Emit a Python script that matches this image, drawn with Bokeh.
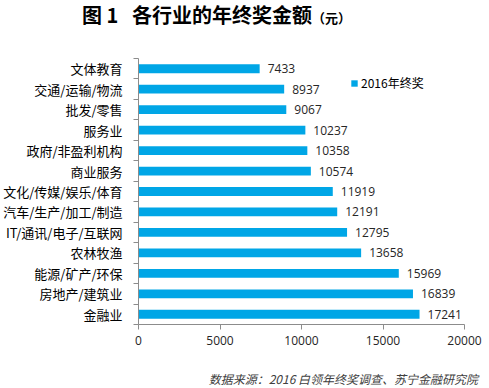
from bokeh.plotting import figure
from bokeh.layouts import column
from bokeh.models import ColumnDataSource, Range1d, FixedTicker, Legend, LegendItem, Div
from bokeh.core.properties import value
from bokeh.embed import file_html
from bokeh.resources import INLINE

# data (bottom to top)
categories = ["金融业", "房地产/建筑业", "能源/矿产/环保", "农林牧渔", "IT/通讯/电子/互联网",
              "汽车/生产/加工/制造", "文化/传媒/娱乐/体育", "商业服务", "政府/非盈利机构",
              "服务业", "批发/零售", "交通/运输/物流", "文体教育"]
values = [17241, 16839, 15969, 13658, 12795, 12191, 11919, 10574, 10358, 10237, 9067, 8937, 7433]
x_ticks = [0, 5000, 10000, 15000, 20000]
series_name = "2016年终奖"
title_main = "图 1&nbsp;&nbsp;&nbsp;各行业的年终奖金额"
title_unit = "（元）"
source_note = "数据来源：2016 白领年终奖调查、苏宁金融研究院"

ypos = [i + 0.5 for i in range(len(categories))]
src = ColumnDataSource(dict(y=ypos, v=values, lab=[str(v) for v in values], cat=categories))

BAR = "#00a6e6"
AX = "#8c8c8c"
CJK = "Noto Sans CJK SC"

p = figure(width=489, height=298, output_backend="svg", toolbar_location=None,
           x_range=Range1d(0, 20000), y_range=Range1d(0, len(categories)),
           min_border_left=134, min_border_right=25, min_border_top=8, min_border_bottom=24,
           margin=0)
p.outline_line_color = None
p.xgrid.visible = False
p.ygrid.visible = False

r = p.hbar(y="y", right="v", left=0, height=0.43, source=src, fill_color=BAR, line_color=None)
p.text(x="v", y="y", text="lab", source=src, x_offset=8, text_baseline="middle",
       text_font=value("Open Sans"), text_font_size="12px", text_color="#262626")

# x axis
p.xaxis.ticker = FixedTicker(ticks=x_ticks, minor_ticks=[])
p.xaxis.axis_line_color = AX
p.xaxis.major_tick_line_color = AX
p.xaxis.major_tick_out = 5
p.xaxis.major_tick_in = 0
p.xaxis.major_label_standoff = 6
p.xaxis.major_label_text_font = "Open Sans"
p.xaxis.major_label_text_font_size = "12px"
p.xaxis.major_label_text_color = "#262626"

# y axis: labels at centres, tick marks at boundaries
p.yaxis.ticker = FixedTicker(ticks=ypos, minor_ticks=list(range(len(categories) + 1)))
p.yaxis.major_label_overrides = {y: c for y, c in zip(ypos, categories)}
p.yaxis.axis_line_color = AX
p.yaxis.major_tick_line_color = None
p.yaxis.major_tick_out = 0
p.yaxis.major_tick_in = 0
p.yaxis.minor_tick_line_color = AX
p.yaxis.minor_tick_out = 5
p.yaxis.minor_tick_in = 0
p.yaxis.major_label_standoff = 11
p.yaxis.major_label_text_font = CJK
p.yaxis.major_label_text_font_size = "13px"
p.yaxis.major_label_text_color = "#000000"

# legend
leg = Legend(items=[LegendItem(label=series_name, renderers=[r])], location=(212, 233),
             glyph_width=8, glyph_height=8, label_text_font=CJK, label_text_font_size="12px",
             label_text_color="#000000", border_line_alpha=0, background_fill_alpha=0,
             padding=0, margin=0, label_standoff=3)
p.add_layout(leg)

title = Div(width=489, height=50, margin=0,
            text=(f'<div style="margin-left:82px;margin-top:3px;white-space:nowrap;font-family:\'{CJK}\';'
                  f'font-weight:bold;color:#000;line-height:24px">'
                  f'<span style="font-size:20px">{title_main}</span>'
                  f'<span style="font-size:13px">{title_unit}</span></div>'))
footer = Div(width=489, height=40, margin=0,
             text=(f'<div style="width:478px;margin-top:23px;text-align:right;white-space:nowrap;'
                   f'font-family:\'{CJK}\';font-style:italic;font-size:12px;line-height:16px;color:#404040">'
                   f'{source_note}</div>'))

layout = column(title, p, footer, spacing=0, margin=0)
open("out.html", "w").write(file_html(layout, INLINE))
